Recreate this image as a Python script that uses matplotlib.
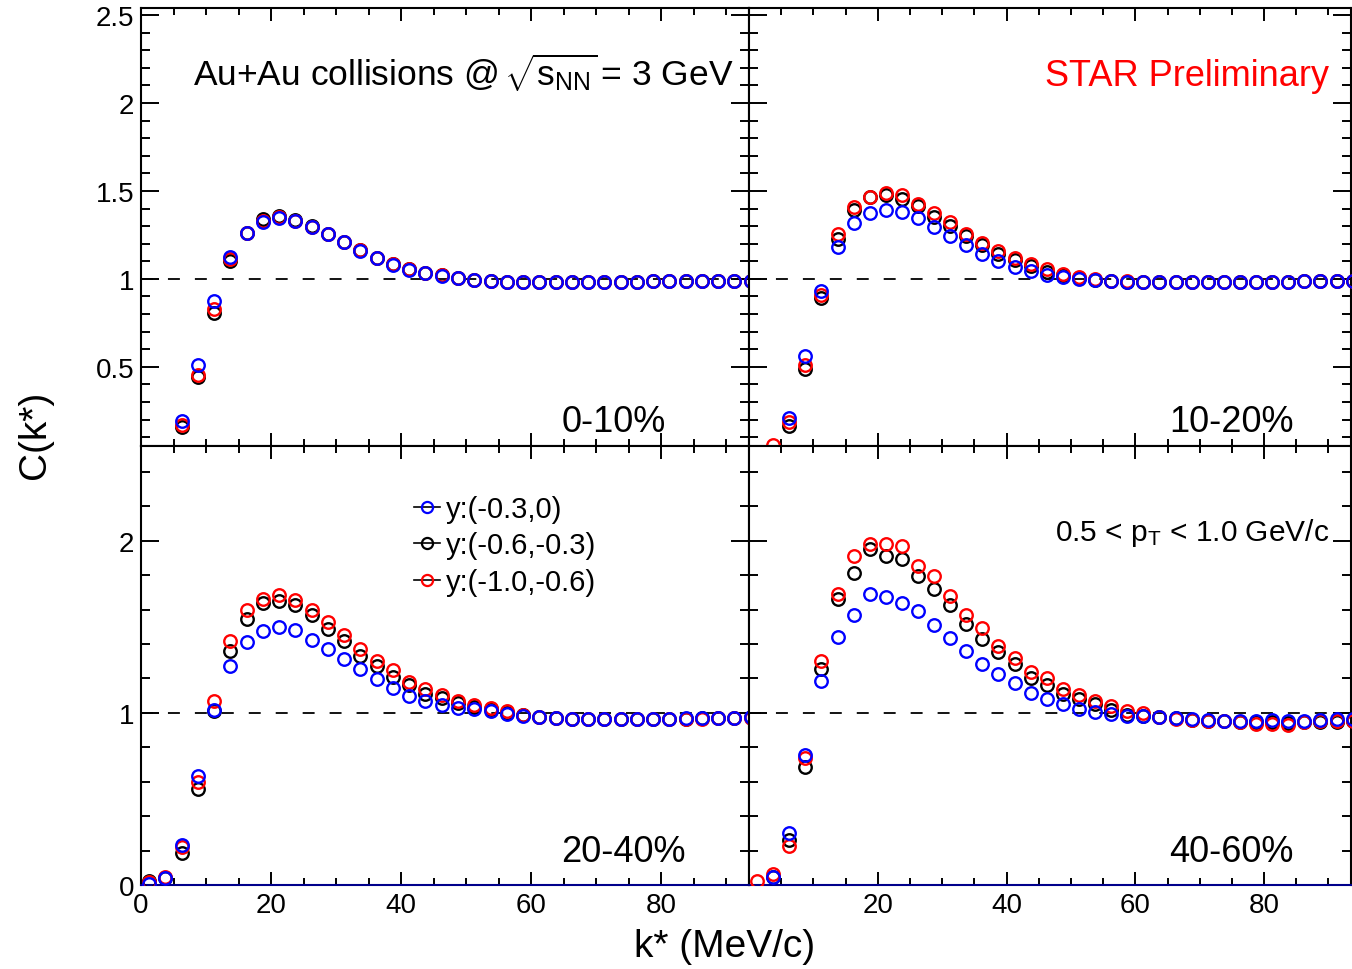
import numpy as np
import matplotlib
matplotlib.use("Agg")
import matplotlib.pyplot as plt
from matplotlib.lines import Line2D
from matplotlib.ticker import MultipleLocator, FormatStrFormatter

plt.rcParams["font.family"] = ["Liberation Sans", "DejaVu Sans"]
plt.rcParams["mathtext.fontset"] = "custom"
plt.rcParams["mathtext.rm"] = "Liberation Sans"
plt.rcParams["mathtext.it"] = "Liberation Sans:italic"
plt.rcParams["lines.scale_dashes"] = False

# k* bin centres (MeV/c)
kstar = [1.25, 3.75, 6.25, 8.75, 11.25, 13.75, 16.25, 18.75, 21.25, 23.75,
         26.25, 28.75, 31.25, 33.75, 36.25, 38.75, 41.25, 43.75, 46.25, 48.75,
         51.25, 53.75, 56.25, 58.75, 61.25, 63.75, 66.25, 68.75, 71.25, 73.75,
         76.25, 78.75, 81.25, 83.75, 86.25, 88.75, 91.25, 93.75]

rap_labels = ["y:(-0.3,0)", "y:(-0.6,-0.3)", "y:(-1.0,-0.6)"]
rap_colors = ["#0000ff", "black", "#ff0000"]

# 0-10%
c0_y1 = [0.0, 0.0, 0.192, 0.511, 0.873, 1.123, 1.261, 1.322, 1.345, 1.328,
         1.297, 1.256, 1.208, 1.161, 1.119, 1.080, 1.053, 1.032, 1.019, 1.004,
         0.993, 0.988, 0.985, 0.983, 0.982, 0.982, 0.982, 0.983, 0.983, 0.984,
         0.985, 0.986, 0.987, 0.988, 0.989, 0.989, 0.990, 0.990]
c0_y2 = [0.0, 0.0, 0.157, 0.441, 0.807, 1.104, 1.261, 1.340, 1.355, 1.332,
         1.299, 1.258, 1.210, 1.163, 1.120, 1.082, 1.055, 1.034, 1.020, 1.005,
         0.994, 0.988, 0.985, 0.983, 0.982, 0.982, 0.982, 0.983, 0.983, 0.984,
         0.985, 0.986, 0.987, 0.988, 0.988, 0.989, 0.990, 0.990]
c0_y3 = [0.0, 0.0, 0.167, 0.455, 0.830, 1.115, 1.260, 1.331, 1.350, 1.330,
         1.295, 1.255, 1.209, 1.162, 1.120, 1.082, 1.055, 1.033, 1.020, 1.005,
         0.993, 0.988, 0.985, 0.983, 0.982, 0.982, 0.982, 0.983, 0.983, 0.984,
         0.985, 0.986, 0.987, 0.988, 0.988, 0.989, 0.990, 0.990]

# 10-20%
c1_y1 = [0.0, 0.0, 0.208, 0.561, 0.930, 1.180, 1.316, 1.373, 1.394, 1.383,
         1.347, 1.294, 1.241, 1.190, 1.142, 1.104, 1.066, 1.047, 1.023, 1.012,
         1.000, 0.992, 0.987, 0.984, 0.983, 0.982, 0.982, 0.982, 0.982, 0.983,
         0.983, 0.984, 0.984, 0.985, 0.986, 0.987, 0.988, 0.989]
c1_y2 = [0.0, 0.0, 0.161, 0.489, 0.890, 1.227, 1.394, 1.468, 1.479, 1.455,
         1.417, 1.354, 1.299, 1.241, 1.190, 1.142, 1.108, 1.072, 1.038, 1.020,
         1.005, 0.995, 0.988, 0.985, 0.983, 0.982, 0.982, 0.982, 0.982, 0.983,
         0.983, 0.984, 0.984, 0.985, 0.986, 0.987, 0.988, 0.989]
c1_y3 = [0.0, 0.057, 0.186, 0.508, 0.910, 1.256, 1.411, 1.468, 1.489, 1.477,
         1.426, 1.373, 1.322, 1.256, 1.205, 1.161, 1.117, 1.085, 1.057, 1.030,
         1.012, 1.000, 0.990, 0.986, 0.984, 0.983, 0.982, 0.982, 0.982, 0.983,
         0.983, 0.984, 0.984, 0.985, 0.986, 0.987, 0.988, 0.989]

# 20-40%
c2_y1 = [0.006, 0.039, 0.234, 0.632, 1.017, 1.275, 1.411, 1.475, 1.498, 1.479,
         1.426, 1.372, 1.314, 1.252, 1.194, 1.143, 1.097, 1.066, 1.045, 1.030,
         1.022, 1.013, 0.995, 0.984, 0.975, 0.968, 0.966, 0.965, 0.965, 0.965,
         0.965, 0.966, 0.967, 0.968, 0.969, 0.970, 0.972, 0.974]
c2_y2 = [0.025, 0.042, 0.186, 0.558, 1.010, 1.359, 1.543, 1.638, 1.649, 1.624,
         1.566, 1.488, 1.415, 1.333, 1.271, 1.211, 1.159, 1.110, 1.087, 1.055,
         1.035, 1.022, 1.000, 0.986, 0.976, 0.968, 0.966, 0.965, 0.964, 0.964,
         0.964, 0.965, 0.966, 0.967, 0.968, 0.969, 0.971, 0.973]
c2_y3 = [0.020, 0.048, 0.220, 0.601, 1.068, 1.417, 1.599, 1.659, 1.682, 1.657,
         1.595, 1.527, 1.453, 1.372, 1.304, 1.246, 1.182, 1.140, 1.105, 1.070,
         1.043, 1.030, 1.008, 0.990, 0.978, 0.970, 0.966, 0.964, 0.963, 0.963,
         0.963, 0.964, 0.965, 0.966, 0.967, 0.968, 0.970, 0.972]

# 40-60%
c3_y1 = [np.nan, 0.045, 0.302, 0.758, 1.184, 1.440, 1.570, 1.688, 1.672, 1.640,
         1.591, 1.508, 1.436, 1.362, 1.285, 1.227, 1.174, 1.114, 1.081, 1.050,
         1.023, 1.004, 0.994, 0.984, 0.981, 0.974, 0.969, 0.962, 0.958, 0.955,
         0.955, 0.955, 0.960, 0.955, 0.952, 0.961, 0.962, 0.962]
c3_y2 = [np.nan, 0.045, 0.264, 0.684, 1.256, 1.663, 1.814, 1.950, 1.911, 1.895,
         1.795, 1.717, 1.628, 1.514, 1.430, 1.353, 1.281, 1.202, 1.159, 1.107,
         1.081, 1.052, 1.014, 0.986, 0.981, 0.974, 0.969, 0.961, 0.955, 0.950,
         0.946, 0.946, 0.946, 0.943, 0.948, 0.944, 0.948, 0.950]
c3_y3 = [0.025, 0.064, 0.225, 0.736, 1.304, 1.692, 1.911, 1.983, 1.983, 1.969,
         1.853, 1.795, 1.678, 1.570, 1.494, 1.391, 1.320, 1.236, 1.200, 1.136,
         1.101, 1.068, 1.037, 1.013, 1.000, 0.974, 0.967, 0.961, 0.953, 0.950,
         0.945, 0.936, 0.936, 0.930, 0.945, 0.952, 0.955, 0.955]

centralities = ["0-10%", "10-20%", "20-40%", "40-60%"]
panel_data = [(c0_y1, c0_y2, c0_y3), (c1_y1, c1_y2, c1_y3),
              (c2_y1, c2_y2, c2_y3), (c3_y1, c3_y2, c3_y3)]

W, H = 1352, 970
fig = plt.figure(figsize=(W / 100, H / 100), dpi=100)

x0, xm, x1 = 141 / W, 749 / W, 1351 / W
yt, ym, yb = 1 - 9 / H, 1 - 447 / H, 1 - 886 / H
rects = [(x0, ym, xm - x0, yt - ym), (xm, ym, x1 - xm, yt - ym),
         (x0, yb, xm - x0, ym - yb), (xm, yb, x1 - xm, ym - yb)]

axes = []
for i, rect in enumerate(rects):
    ax = fig.add_axes(rect)
    top = i < 2
    left = i % 2 == 0
    ax.set_xlim(0, 93.5)
    if top:
        ax.set_ylim(0.05, 2.54)
        ax.yaxis.set_major_locator(MultipleLocator(0.5))
        ax.yaxis.set_minor_locator(MultipleLocator(0.1))
    else:
        ax.set_ylim(0, 2.55)
        ax.set_yticks([0, 1, 2])
        ax.yaxis.set_minor_locator(MultipleLocator(0.2))
        ax.spines["bottom"].set_color("#00008b")
    ax.yaxis.set_major_formatter(FormatStrFormatter("%g"))
    if left or top:
        ax.set_xticks([0, 20, 40, 60, 80])
    else:
        ax.set_xticks([20, 40, 60, 80])
    ax.xaxis.set_minor_locator(MultipleLocator(5))
    for s in ax.spines.values():
        s.set_linewidth(1.5)
    ax.tick_params(which="both", direction="in", top=True, right=True,
                   width=1.4, labelsize=20)
    ax.tick_params(axis="y", which="major", length=13, pad=5)
    ax.tick_params(axis="y", which="minor", length=6.5)
    ax.tick_params(axis="x", which="major", length=9.5, pad=5)
    ax.tick_params(axis="x", which="minor", length=5)
    if not left:
        ax.tick_params(labelleft=False)
    if top:
        ax.tick_params(labelbottom=False)
    ax.axhline(1.0, color="black", lw=1.3, ls=(0, (8.6, 10.8)), zorder=1)

    for j in (1, 2, 0):
        ax.plot(kstar, panel_data[i][j], ls="none", marker="o", ms=9.0,
                mfc="none", mec=rap_colors[j], mew=1.7, zorder=3 + (j == 0))
    axes.append(ax)

# centrality labels
axes[0].text(0.863, 0.034, centralities[0], transform=axes[0].transAxes,
             ha="right", va="baseline", fontsize=26)
axes[1].text(0.905, 0.034, centralities[1], transform=axes[1].transAxes,
             ha="right", va="baseline", fontsize=26)
axes[2].text(0.896, 0.055, centralities[2], transform=axes[2].transAxes,
             ha="right", va="baseline", fontsize=26)
axes[3].text(0.905, 0.055, centralities[3], transform=axes[3].transAxes,
             ha="right", va="baseline", fontsize=26)

axes[0].text(0.0855, 0.824,
             r"Au+Au collisions @ $\!\sqrt{\mathrm{s}_{\mathrm{NN}}}\,$= 3 GeV",
             transform=axes[0].transAxes, ha="left", va="baseline", fontsize=25.5)
axes[1].text(0.9635, 0.824, "STAR Preliminary", color="#ff0000",
             transform=axes[1].transAxes, ha="right", va="baseline", fontsize=26)
axes[3].text(0.963, 0.786, r"0.5 < $\mathrm{p}_{\mathrm{T}}$ < 1.0 GeV/c",
             transform=axes[3].transAxes, ha="right", va="baseline", fontsize=21.5)

# legend: black error line through coloured open marker
handles = []
for c in rap_colors:
    ln = Line2D([], [], color="black", lw=1.2)
    mk = Line2D([], [], ls="none", marker="o", ms=8, mfc="none", mec=c, mew=1.6)
    handles.append((ln, mk))
axes[2].legend(handles, rap_labels, loc="upper left", bbox_to_anchor=(0.449, 0.889),
               frameon=False, fontsize=21, handlelength=0.9, handletextpad=0.2,
               borderpad=0, borderaxespad=0, labelspacing=0.3)

fig.text(35 / W, 1 - 435 / H, "C(k*)", rotation=90, ha="center", va="center", fontsize=28)
fig.text(725 / W, 1 - 947 / H, "k* (MeV/c)", ha="center", va="center", fontsize=28)

fig.savefig("out.png", dpi=100)
